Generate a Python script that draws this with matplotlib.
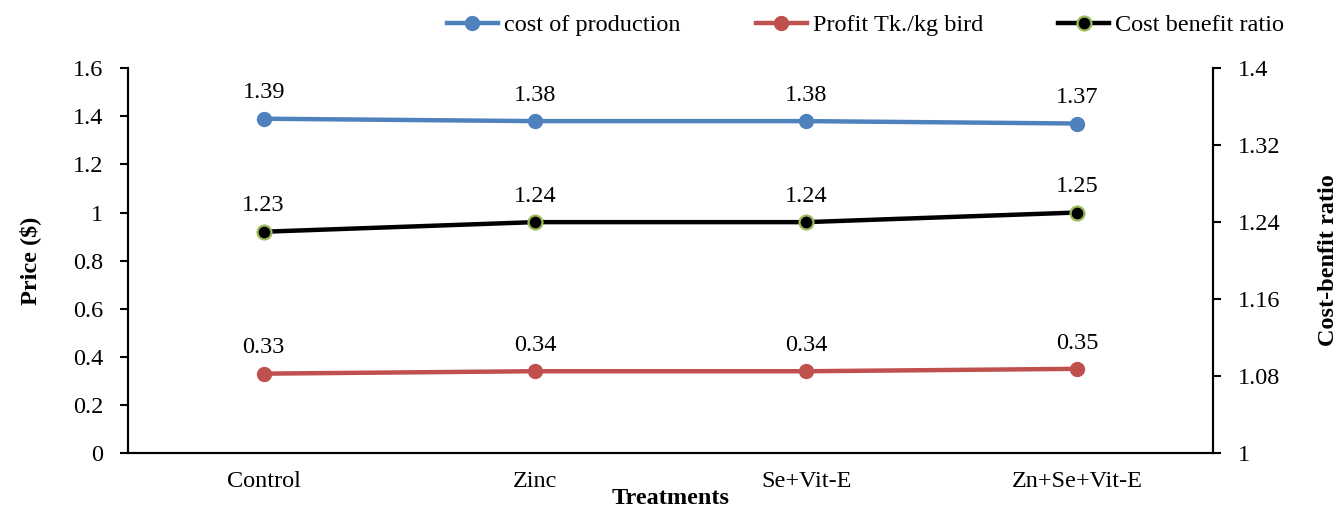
import matplotlib
matplotlib.use("Agg")
import matplotlib.pyplot as plt

categories = ["Control", "Zinc", "Se+Vit-E", "Zn+Se+Vit-E"]
cost_production = [1.39, 1.38, 1.38, 1.37]
profit = [0.33, 0.34, 0.34, 0.35]
cost_benefit = [1.23, 1.24, 1.24, 1.25]
left_ticks = [0, 0.2, 0.4, 0.6, 0.8, 1.0, 1.2, 1.4, 1.6]
left_ticklabels = ["0", "0.2", "0.4", "0.6", "0.8", "1", "1.2", "1.4", "1.6"]
right_ticks = [1.0, 1.08, 1.16, 1.24, 1.32, 1.4]
right_ticklabels = ["1", "1.08", "1.16", "1.24", "1.32", "1.4"]

plt.rcParams['font.family'] = ['Liberation Serif', 'DejaVu Serif']

fig = plt.figure(figsize=(13.42, 5.09), dpi=100)
ax = fig.add_axes([0.0954, 0.110, 0.8085, 0.756])
ax2 = ax.twinx()

x = [i + 0.5 for i in range(len(categories))]
fs = 17.5

l1, = ax.plot(x, cost_production, color="#4F81BD", lw=3.2, marker="o", ms=10,
              mfc="#4F81BD", mec="#4F81BD", label="cost of production")
l2, = ax.plot(x, profit, color="#C0504D", lw=3.2, marker="o", ms=10,
              mfc="#C0504D", mec="#C0504D", label="Profit Tk./kg bird")
l3, = ax2.plot(x, cost_benefit, color="black", lw=3.2, marker="o", ms=10,
               mfc="black", mec="#9BBB59", mew=1.6, label="Cost benefit ratio")

for xi, v in zip(x, cost_production):
    ax.annotate(f"{v:.2f}", (xi, v), xytext=(0, 11), textcoords="offset points",
                ha="center", va="bottom", fontsize=fs)
for xi, v in zip(x, profit):
    ax.annotate(f"{v:.2f}", (xi, v), xytext=(0, 11), textcoords="offset points",
                ha="center", va="bottom", fontsize=fs)
for xi, v in zip(x, cost_benefit):
    ax2.annotate(f"{v:.2f}", (xi, v), xytext=(0, 11), textcoords="offset points",
                 ha="center", va="bottom", fontsize=fs)

ax.set_xlim(0, 4)
ax.set_ylim(0, 1.6)
ax2.set_ylim(1.0, 1.4)
ax.set_xticks(x)
ax.set_xticklabels(categories, fontsize=fs)
ax.tick_params(axis="x", length=0, pad=13)
ax.set_yticks(left_ticks)
ax.set_yticklabels(left_ticklabels, fontsize=fs)
ax.tick_params(axis="y", direction="out", length=6, width=1.5, pad=12)
ax2.set_yticks(right_ticks)
ax2.set_yticklabels(right_ticklabels, fontsize=fs)
ax2.tick_params(axis="y", direction="out", length=6, width=1.5, pad=12)

for a in (ax, ax2):
    a.spines["top"].set_visible(False)
    for s in ("left", "right", "bottom"):
        a.spines[s].set_linewidth(1.5)

ax.set_xlabel("Treatments", fontsize=fs, fontweight="bold", labelpad=-3)
ax.set_ylabel("Price ($)", fontsize=fs, fontweight="bold", labelpad=23)
ax2.set_ylabel("Cost-benfit ratio", fontsize=fs, fontweight="bold", labelpad=27)

fig.legend(handles=[l1, l2, l3], loc="upper center", bbox_to_anchor=(0.645, 1.015),
           ncol=3, frameon=False, fontsize=fs, handlelength=2.1, columnspacing=3.1,
           handletextpad=0.25)

fig.savefig("out.png", dpi=100)
